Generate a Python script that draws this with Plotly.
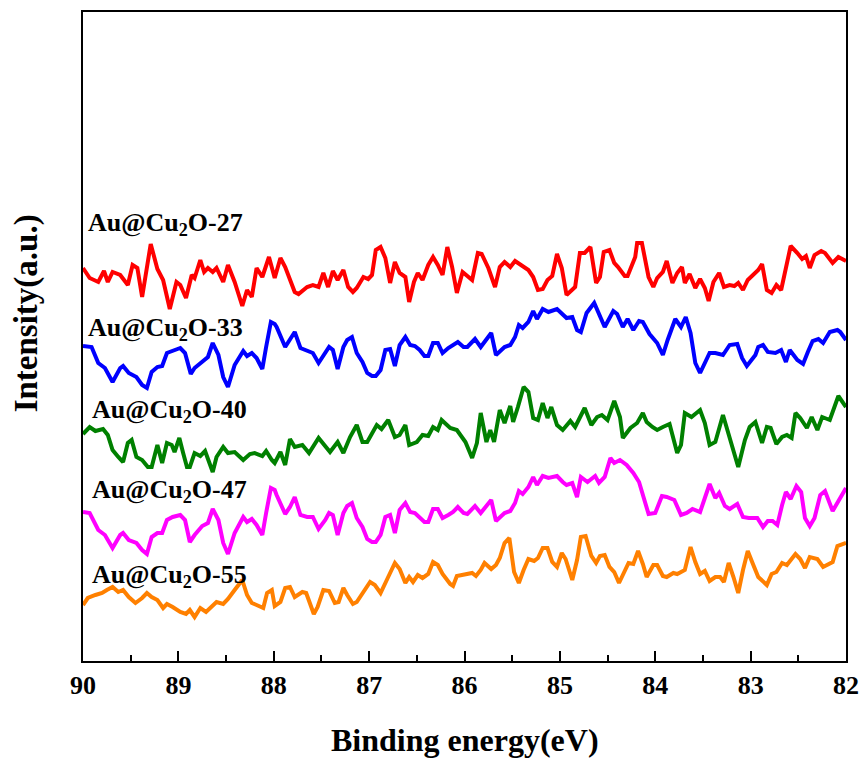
import plotly.graph_objects as go

# ---- data (binding energy in eV, intensity in a.u.) ----
e27 = [90.00, 89.93, 89.84, 89.78, 89.74, 89.69, 89.61, 89.53, 89.48, 89.43, 89.38, 89.29, 89.22, 89.16, 89.09, 89.02, 88.98, 88.92, 88.86, 88.83, 88.77, 88.73, 88.69, 88.64, 88.60, 88.53, 88.48, 88.41, 88.33, 88.28, 88.23, 88.18, 88.12, 88.05, 87.99, 87.93, 87.88, 87.78, 87.74, 87.65, 87.59, 87.53, 87.48, 87.43, 87.38, 87.33, 87.27, 87.22, 87.17, 87.13, 87.06, 87.01, 86.97, 86.93, 86.88, 86.83, 86.78, 86.73, 86.68, 86.62, 86.58, 86.53, 86.49, 86.44, 86.38, 86.33, 86.28, 86.23, 86.18, 86.13, 86.08, 86.02, 85.92, 85.86, 85.82, 85.75, 85.68, 85.63, 85.58, 85.52, 85.47, 85.40, 85.33, 85.28, 85.23, 85.18, 85.13, 85.08, 85.03, 84.98, 84.93, 84.84, 84.79, 84.74, 84.68, 84.62, 84.58, 84.54, 84.48, 84.43, 84.39, 84.32, 84.29, 84.21, 84.19, 84.14, 84.07, 84.02, 83.98, 83.92, 83.88, 83.82, 83.77, 83.72, 83.69, 83.64, 83.58, 83.53, 83.48, 83.44, 83.39, 83.33, 83.28, 83.22, 83.17, 83.13, 83.08, 83.03, 82.95, 82.92, 82.88, 82.83, 82.78, 82.73, 82.68, 82.58, 82.51, 82.46, 82.42, 82.38, 82.33, 82.26, 82.22, 82.14, 82.08, 82.00]
i27 = [393, 383, 379, 390, 379, 389, 386, 376, 396, 393, 364, 417, 392, 381, 352, 379, 376, 363, 386, 383, 401, 389, 393, 389, 393, 379, 396, 379, 355, 371, 364, 393, 384, 404, 383, 403, 394, 369, 367, 374, 376, 374, 388, 374, 390, 381, 391, 374, 369, 373, 384, 382, 386, 411, 414, 403, 378, 399, 388, 384, 359, 379, 388, 381, 396, 404, 396, 386, 414, 394, 368, 389, 381, 408, 407, 393, 374, 394, 399, 394, 400, 396, 391, 384, 371, 372, 381, 385, 407, 393, 366, 374, 408, 408, 414, 378, 384, 409, 411, 398, 394, 385, 385, 404, 418, 418, 384, 374, 383, 389, 400, 378, 388, 394, 378, 387, 373, 382, 373, 360, 379, 388, 374, 376, 375, 378, 371, 381, 388, 391, 397, 371, 368, 376, 371, 415, 408, 402, 405, 393, 406, 410, 408, 398, 404, 400]

e33 = [90.00, 89.91, 89.84, 89.77, 89.69, 89.61, 89.58, 89.52, 89.44, 89.38, 89.33, 89.28, 89.22, 89.17, 89.12, 89.06, 88.98, 88.93, 88.87, 88.83, 88.75, 88.69, 88.64, 88.58, 88.53, 88.48, 88.41, 88.32, 88.28, 88.23, 88.18, 88.12, 88.08, 88.03, 87.99, 87.97, 87.88, 87.83, 87.78, 87.72, 87.65, 87.59, 87.53, 87.46, 87.42, 87.38, 87.33, 87.27, 87.23, 87.18, 87.13, 87.07, 87.02, 86.97, 86.93, 86.88, 86.83, 86.78, 86.73, 86.68, 86.62, 86.57, 86.52, 86.47, 86.42, 86.38, 86.33, 86.28, 86.23, 86.17, 86.12, 86.07, 86.01, 85.97, 85.89, 85.83, 85.72, 85.67, 85.58, 85.52, 85.47, 85.43, 85.39, 85.33, 85.28, 85.24, 85.18, 85.12, 85.03, 84.97, 84.93, 84.87, 84.82, 84.78, 84.72, 84.64, 84.59, 84.53, 84.44, 84.40, 84.34, 84.29, 84.23, 84.17, 84.13, 84.08, 84.06, 83.98, 83.92, 83.87, 83.79, 83.73, 83.68, 83.63, 83.58, 83.53, 83.48, 83.43, 83.37, 83.29, 83.22, 83.14, 83.09, 83.04, 82.95, 82.92, 82.87, 82.82, 82.74, 82.68, 82.63, 82.59, 82.51, 82.45, 82.40, 82.35, 82.29, 82.24, 82.17, 82.09, 82.06, 82.00]
i33 = [315, 314, 298, 293, 279, 293, 295, 288, 284, 276, 273, 289, 294, 295, 308, 310, 313, 308, 287, 293, 300, 304, 318, 306, 284, 274, 296, 310, 305, 308, 303, 292, 314, 339, 337, 334, 314, 321, 329, 313, 310, 308, 298, 308, 314, 311, 292, 314, 321, 324, 308, 299, 288, 285, 285, 291, 311, 312, 295, 316, 324, 316, 315, 311, 305, 305, 318, 318, 308, 313, 316, 319, 314, 314, 322, 314, 328, 306, 314, 316, 324, 336, 333, 339, 350, 342, 352, 349, 352, 346, 343, 344, 331, 329, 348, 358, 346, 334, 350, 347, 334, 342, 331, 340, 339, 329, 327, 318, 306, 321, 342, 334, 344, 328, 298, 288, 298, 308, 308, 306, 316, 317, 303, 295, 306, 314, 316, 309, 308, 311, 299, 311, 301, 297, 309, 320, 322, 318, 329, 331, 329, 321]

e40 = [90.00, 89.93, 89.87, 89.79, 89.74, 89.69, 89.63, 89.58, 89.53, 89.49, 89.44, 89.38, 89.32, 89.28, 89.22, 89.17, 89.12, 89.07, 89.04, 88.99, 88.95, 88.91, 88.88, 88.83, 88.77, 88.72, 88.64, 88.60, 88.53, 88.48, 88.41, 88.32, 88.25, 88.20, 88.12, 88.08, 88.02, 87.99, 87.93, 87.88, 87.83, 87.78, 87.70, 87.63, 87.53, 87.46, 87.41, 87.33, 87.27, 87.20, 87.13, 87.07, 87.02, 86.92, 86.87, 86.80, 86.73, 86.68, 86.62, 86.58, 86.50, 86.44, 86.38, 86.33, 86.28, 86.24, 86.15, 86.08, 85.99, 85.92, 85.87, 85.83, 85.77, 85.73, 85.69, 85.63, 85.58, 85.52, 85.49, 85.44, 85.38, 85.33, 85.28, 85.23, 85.18, 85.13, 85.09, 85.03, 84.97, 84.89, 84.84, 84.74, 84.67, 84.61, 84.56, 84.50, 84.43, 84.37, 84.34, 84.26, 84.19, 84.13, 84.09, 84.03, 83.98, 83.92, 83.85, 83.77, 83.73, 83.69, 83.62, 83.53, 83.48, 83.43, 83.37, 83.29, 83.22, 83.13, 83.06, 83.01, 82.95, 82.88, 82.83, 82.79, 82.73, 82.67, 82.62, 82.57, 82.53, 82.48, 82.41, 82.36, 82.30, 82.25, 82.17, 82.08, 82.00]
i40 = [227, 234, 230, 232, 226, 211, 204, 199, 218, 221, 204, 201, 194, 194, 216, 198, 218, 216, 209, 223, 208, 194, 194, 208, 205, 210, 189, 204, 214, 208, 209, 201, 207, 208, 205, 210, 201, 198, 209, 196, 222, 214, 216, 208, 223, 214, 209, 219, 208, 224, 236, 219, 219, 236, 232, 241, 224, 226, 236, 216, 219, 226, 225, 234, 231, 241, 233, 231, 219, 203, 218, 248, 219, 231, 219, 251, 238, 255, 239, 254, 274, 269, 243, 241, 258, 243, 254, 236, 231, 240, 234, 253, 236, 244, 246, 241, 260, 244, 223, 233, 238, 248, 239, 234, 231, 234, 237, 208, 216, 248, 244, 251, 238, 216, 219, 246, 224, 194, 221, 234, 239, 218, 234, 233, 217, 224, 226, 223, 248, 243, 233, 244, 231, 244, 241, 265, 254]

e47 = [90.00, 89.93, 89.84, 89.77, 89.69, 89.61, 89.58, 89.52, 89.44, 89.38, 89.33, 89.28, 89.22, 89.17, 89.12, 89.06, 88.98, 88.93, 88.88, 88.83, 88.75, 88.69, 88.64, 88.58, 88.53, 88.48, 88.41, 88.32, 88.28, 88.23, 88.18, 88.12, 88.08, 88.03, 87.99, 87.97, 87.88, 87.83, 87.78, 87.72, 87.65, 87.59, 87.53, 87.46, 87.42, 87.38, 87.33, 87.27, 87.23, 87.18, 87.13, 87.07, 87.02, 86.97, 86.93, 86.88, 86.83, 86.78, 86.73, 86.68, 86.62, 86.57, 86.52, 86.47, 86.42, 86.38, 86.33, 86.28, 86.23, 86.17, 86.12, 86.07, 86.01, 85.97, 85.89, 85.83, 85.72, 85.67, 85.58, 85.52, 85.47, 85.43, 85.39, 85.33, 85.28, 85.24, 85.18, 85.12, 85.03, 84.97, 84.93, 84.87, 84.82, 84.78, 84.71, 84.63, 84.59, 84.53, 84.47, 84.43, 84.37, 84.30, 84.23, 84.17, 84.11, 84.07, 84.00, 83.93, 83.88, 83.80, 83.73, 83.67, 83.61, 83.53, 83.48, 83.43, 83.37, 83.33, 83.27, 83.22, 83.14, 83.08, 83.02, 82.93, 82.87, 82.82, 82.77, 82.72, 82.67, 82.63, 82.58, 82.52, 82.47, 82.43, 82.38, 82.33, 82.27, 82.22, 82.14, 82.00]
i47 = [149, 148, 131, 126, 113, 126, 128, 121, 118, 111, 107, 124, 128, 128, 141, 144, 146, 141, 119, 126, 135, 138, 152, 141, 118, 107, 128, 144, 139, 142, 136, 126, 148, 173, 171, 166, 147, 154, 164, 146, 144, 144, 132, 141, 148, 146, 126, 148, 155, 158, 143, 134, 122, 119, 119, 126, 144, 146, 128, 151, 158, 149, 148, 144, 139, 139, 152, 152, 143, 146, 149, 154, 148, 147, 155, 148, 161, 140, 148, 150, 158, 170, 167, 174, 184, 176, 185, 183, 185, 179, 176, 178, 164, 184, 179, 185, 178, 184, 203, 198, 201, 196, 188, 179, 158, 147, 148, 165, 164, 161, 146, 148, 152, 149, 163, 177, 163, 168, 155, 152, 157, 144, 143, 143, 134, 140, 140, 136, 156, 169, 162, 175, 169, 143, 135, 143, 166, 170, 150, 173]

e55 = [90.00, 89.95, 89.87, 89.80, 89.75, 89.69, 89.63, 89.58, 89.52, 89.45, 89.38, 89.33, 89.28, 89.22, 89.16, 89.12, 89.06, 88.98, 88.92, 88.88, 88.83, 88.77, 88.71, 88.66, 88.60, 88.53, 88.48, 88.41, 88.33, 88.28, 88.23, 88.18, 88.11, 88.07, 88.02, 87.99, 87.93, 87.88, 87.83, 87.78, 87.70, 87.66, 87.62, 87.58, 87.54, 87.48, 87.42, 87.36, 87.32, 87.27, 87.23, 87.17, 87.13, 87.06, 86.99, 86.94, 86.88, 86.81, 86.73, 86.68, 86.62, 86.58, 86.54, 86.49, 86.44, 86.38, 86.33, 86.28, 86.23, 86.15, 86.12, 86.08, 86.01, 85.92, 85.88, 85.83, 85.79, 85.72, 85.67, 85.63, 85.58, 85.53, 85.48, 85.43, 85.38, 85.33, 85.27, 85.23, 85.18, 85.13, 85.08, 85.03, 84.98, 84.94, 84.87, 84.82, 84.78, 84.73, 84.67, 84.62, 84.58, 84.53, 84.48, 84.43, 84.38, 84.32, 84.28, 84.23, 84.18, 84.13, 84.09, 84.02, 83.98, 83.92, 83.88, 83.81, 83.77, 83.69, 83.63, 83.58, 83.53, 83.48, 83.43, 83.37, 83.32, 83.28, 83.23, 83.18, 83.13, 83.08, 83.03, 82.98, 82.92, 82.83, 82.78, 82.73, 82.67, 82.62, 82.53, 82.48, 82.43, 82.38, 82.30, 82.24, 82.14, 82.09, 82.00]
i55 = [56, 63, 66, 68, 71, 74, 69, 71, 64, 58, 63, 68, 64, 61, 53, 57, 54, 49, 47, 51, 44, 53, 49, 53, 59, 57, 62, 71, 81, 66, 58, 56, 53, 68, 71, 55, 59, 73, 74, 64, 69, 68, 56, 47, 54, 71, 70, 58, 59, 73, 66, 57, 59, 69, 79, 76, 68, 82, 98, 92, 78, 84, 79, 86, 83, 87, 99, 96, 87, 77, 75, 85, 86, 88, 85, 91, 98, 92, 96, 103, 118, 123, 89, 78, 91, 102, 100, 103, 113, 113, 99, 94, 108, 102, 81, 101, 124, 125, 105, 98, 105, 106, 94, 89, 78, 91, 98, 97, 110, 97, 84, 96, 96, 85, 84, 88, 87, 91, 114, 99, 87, 90, 80, 84, 84, 79, 98, 84, 68, 91, 110, 98, 84, 76, 87, 89, 98, 96, 107, 102, 93, 104, 102, 94, 99, 115, 118]

series_names = ["Au@Cu<sub>2</sub>O-27", "Au@Cu<sub>2</sub>O-33", "Au@Cu<sub>2</sub>O-40",
                "Au@Cu<sub>2</sub>O-47", "Au@Cu<sub>2</sub>O-55"]
colors = ["#FF0000", "#0000FF", "#008000", "#FF00FF", "#FF8000"]
label_x = [89.97, 89.97, 89.93, 89.93, 89.93]
label_y = [437, 332, 250, 170, 85]

x_ticks = [90, 89, 88, 87, 86, 85, 84, 83, 82]

FONT = "Liberation Serif, Times New Roman, serif"

fig = go.Figure()
for e, i, c, n in zip([e27, e33, e40, e47, e55], [i27, i33, i40, i47, i55], colors, series_names):
    fig.add_trace(go.Scatter(x=e, y=i, mode="lines", name=n,
                             line=dict(color=c, width=4), showlegend=False))

for n, lx, ly in zip(series_names, label_x, label_y):
    fig.add_annotation(x=lx, y=ly, xref="x", yref="y", text=n, showarrow=False,
                       xanchor="left", yanchor="middle",
                       font=dict(family=FONT, size=26, color="black", weight="bold"))

fig.add_annotation(x=-0.074, y=0.535, xref="paper", yref="paper", text="Intensity(a.u.)",
                   textangle=-90, showarrow=False, xanchor="center", yanchor="middle",
                   font=dict(family=FONT, size=33, color="black", weight="bold"))
fig.add_annotation(x=0.5, y=-0.122, xref="paper", yref="paper", text="Binding energy(eV)",
                   showarrow=False, xanchor="center", yanchor="middle",
                   font=dict(family=FONT, size=32, color="black", weight="bold"))

fig.update_layout(
    width=864, height=760,
    margin=dict(l=83, r=18, t=12, b=99, autoexpand=False),
    plot_bgcolor="white", paper_bgcolor="white",
    xaxis=dict(range=[90, 82], tickvals=x_ticks, ticktext=[str(t) for t in x_ticks],
               automargin=False,
               showgrid=False, zeroline=False, showline=True, linecolor="black", linewidth=2,
               mirror=True, ticks="inside", ticklen=10, tickwidth=2, tickcolor="black",
               minor=dict(dtick=0.5, tick0=0.5, ticks="inside", ticklen=6, tickwidth=2,
                          tickcolor="black", showgrid=False),
               tickfont=dict(family=FONT, size=26, color="black", weight="bold")),
    yaxis=dict(range=[0, 649], showticklabels=False, showgrid=False, zeroline=False,
               automargin=False,
               showline=True, linecolor="black", linewidth=2, mirror=True, ticks=""),
)

fig.write_html("out.html")
